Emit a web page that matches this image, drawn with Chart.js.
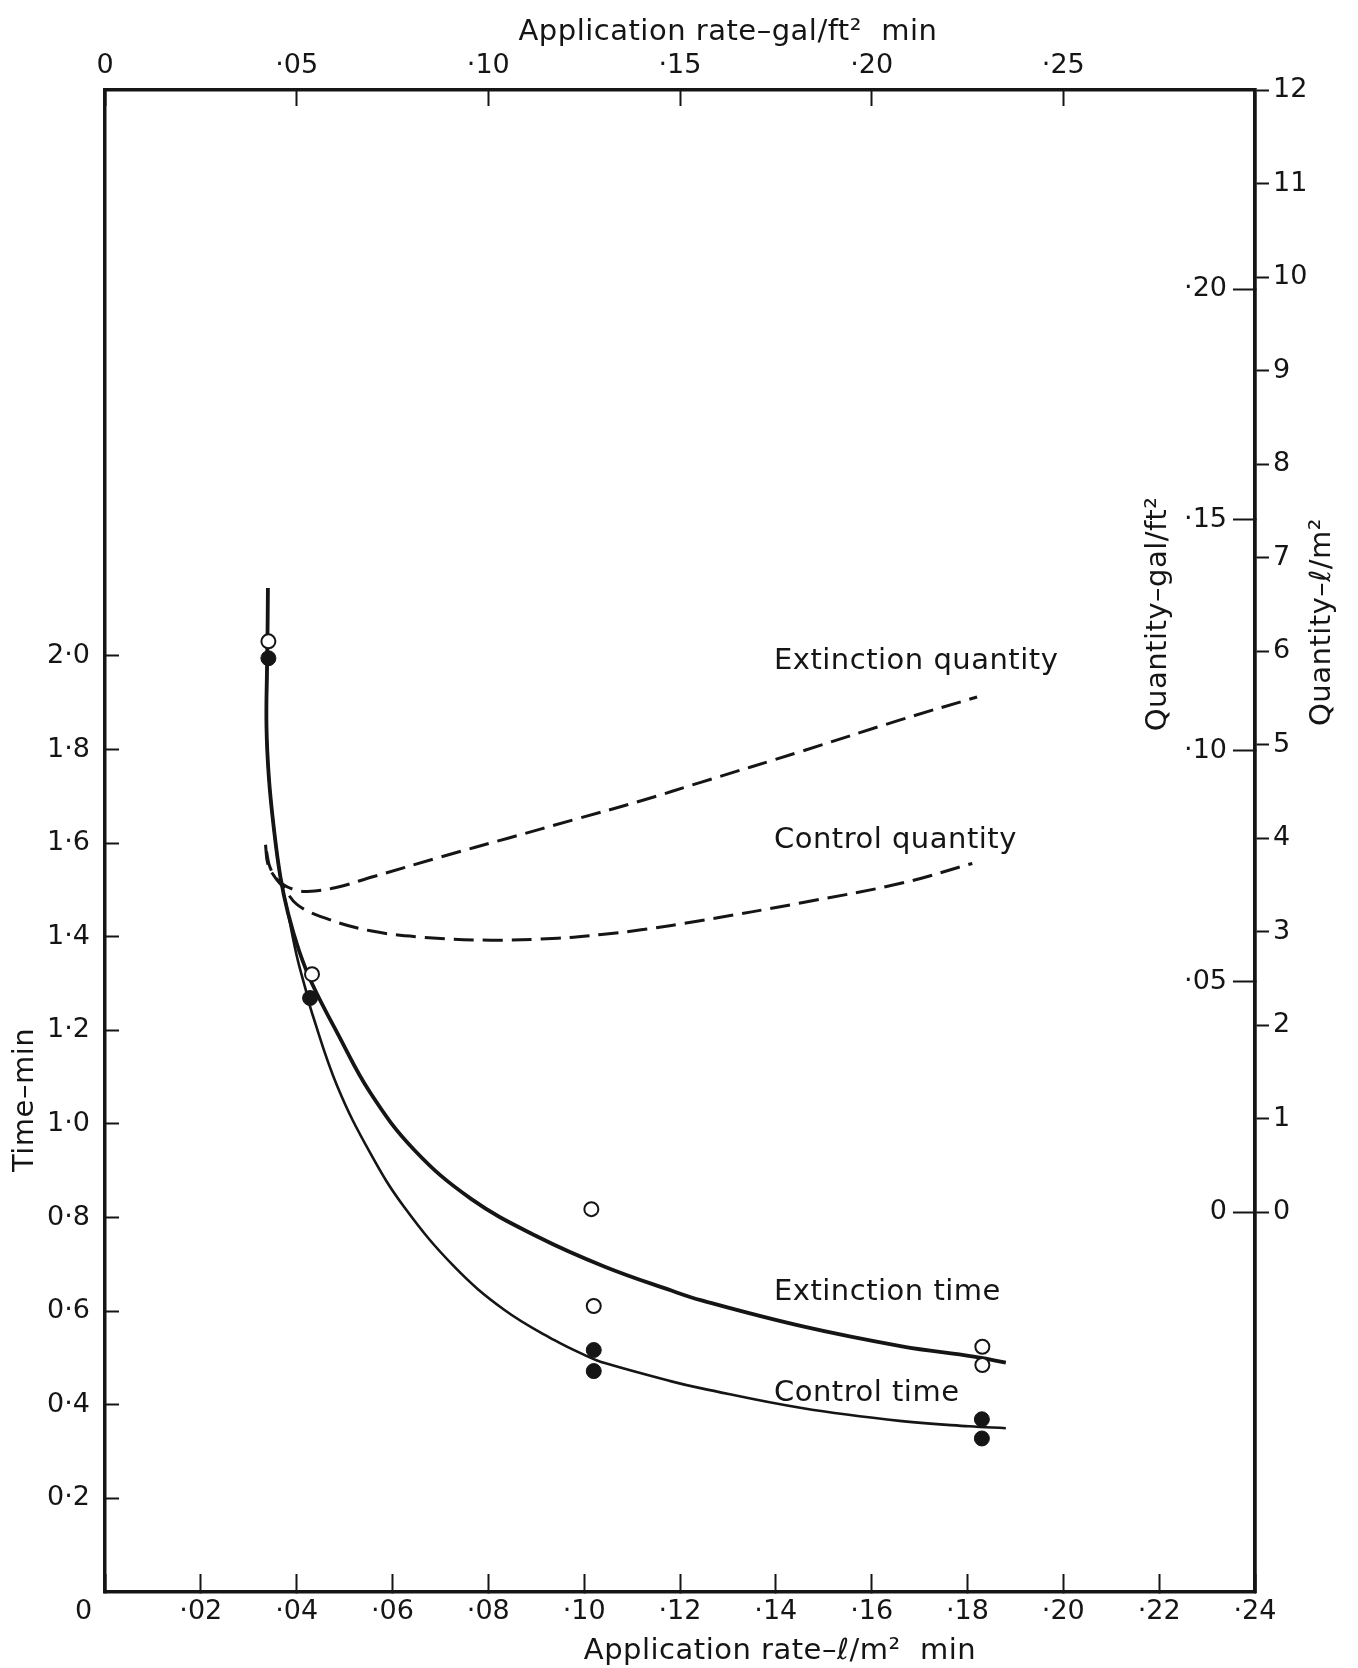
<!DOCTYPE html>
<html>
<head>
<meta charset="utf-8">
<title>Extinction and control: time and quantity against application rate</title>
<script src="https://cdn.jsdelivr.net/npm/chart.js"></script>
<style>
  html, body { margin: 0; padding: 0; background: #fff; }
  #chartCanvas { display: block; }
</style>
</head>
<body>
<canvas id="chartCanvas" width="1358" height="1668"></canvas>
<script>
// application rate in l/m2 min, time in min, quantity in l/m2
var extTimeRate = [0.0340, 0.0339, 0.0338, 0.0337, 0.0342, 0.0352, 0.0366, 0.0382, 0.0405, 0.0432, 0.0485, 0.0554, 0.0645, 0.0764, 0.0903, 0.1043, 0.1182, 0.1245, 0.1454, 0.1663, 0.1813, 0.1880];
var extTimeMin  = [2.145, 2.03, 1.97, 1.85, 1.74, 1.635, 1.528, 1.45, 1.37, 1.30, 1.194, 1.066, 0.945, 0.840, 0.759, 0.695, 0.644, 0.623, 0.568, 0.525, 0.503, 0.490];

var ctlTimeRate = [0.0339, 0.0337, 0.0342, 0.0352, 0.0366, 0.0382, 0.0400, 0.0418, 0.0432, 0.0485, 0.0554, 0.0624, 0.0729, 0.0833, 0.0938, 0.1008, 0.1043, 0.1182, 0.1245, 0.1454, 0.1663, 0.1803, 0.1880];
var ctlTimeMin  = [1.995, 1.85, 1.74, 1.635, 1.528, 1.45, 1.36, 1.29, 1.237, 1.080, 0.937, 0.823, 0.695, 0.603, 0.538, 0.503, 0.489, 0.450, 0.435, 0.393, 0.365, 0.354, 0.350];

var extQtyRate = [0.0337, 0.0345, 0.0365, 0.0395, 0.0422, 0.0480, 0.0561, 0.0701, 0.0841, 0.0980, 0.1119, 0.1245, 0.1454, 0.1663, 0.1820];
var extQtyL    = [3.86, 3.68, 3.53, 3.45, 3.43, 3.47, 3.59, 3.80, 4.00, 4.20, 4.40, 4.60, 4.93, 5.27, 5.51];

var ctlQtyRate = [0.0335, 0.0340, 0.0355, 0.0373, 0.0401, 0.0457, 0.0554, 0.0666, 0.0806, 0.0945, 0.1036, 0.1119, 0.1245, 0.1454, 0.1663, 0.1810];
var ctlQtyL    = [3.93, 3.72, 3.58, 3.47, 3.29, 3.15, 3.01, 2.94, 2.91, 2.93, 2.97, 3.02, 3.12, 3.31, 3.52, 3.73];

// measured points: open = extinction time, filled = control time
var openRate   = [0.0341, 0.0432, 0.1015, 0.1020, 0.1831, 0.1831];
var openMin    = [2.031, 1.320, 0.818, 0.611, 0.524, 0.485];
var filledRate = [0.0341, 0.0428, 0.1020, 0.1020, 0.1830, 0.1830];
var filledMin  = [1.995, 1.269, 0.517, 0.472, 0.369, 0.328];

// axis ticks
var rateTicksLm2 = [0, 0.02, 0.04, 0.06, 0.08, 0.10, 0.12, 0.14, 0.16, 0.18, 0.20, 0.22, 0.24];
var rateTicksGal = [0, 0.05, 0.10, 0.15, 0.20, 0.25];
var timeTicks    = [0.2, 0.4, 0.6, 0.8, 1.0, 1.2, 1.4, 1.6, 1.8, 2.0];
var qtyTicksLm2  = [0, 1, 2, 3, 4, 5, 6, 7, 8, 9, 10, 11, 12];
var qtyTicksGal  = [0, 0.05, 0.10, 0.15, 0.20];

// curve names, placed on the bottom rate axis and the matching value axis
var curveNames     = ['Extinction quantity', 'Control quantity', 'Extinction time', 'Control time'];
var curveNameRate  = [0.1396, 0.1396, 0.1396, 0.1396];
var curveNameValue = [5.89, 3.98, 0.639, 0.425];
var curveNameAxis  = ['yL', 'yL', 'y', 'y'];

var lm2PerGal = 49.35;   // spacing of the two quantity scales as drawn
var ink = '#151515';
var tickFont = { family: '"DejaVu Sans", sans-serif', size: 27 };

function pts(xs, ys) {
    return xs.map(function (x, i) { return { x: x, y: ys[i] }; });
}
function rateLabel(v) {
    if (Math.abs(v) < 1e-9) return '0';
    return '\u00b7' + v.toFixed(2).split('.')[1];
}
function timeLabel(v) {
    return v.toFixed(1).replace('.', '\u00b7');
}
function useTicks(list) {
    return function (s) { s.ticks = list.map(function (v) { return { value: v }; }); };
}
function rotatedText(ctx, text, x, y) {
    ctx.save();
    ctx.translate(x, y);
    ctx.rotate(-Math.PI / 2);
    ctx.fillText(text, 0, 0);
    ctx.restore();
}

var textPlugin = {
    id: 'figureText',
    afterDraw: function (chart) {
        var ctx = chart.ctx, ca = chart.chartArea, sx = chart.scales.x;
        ctx.save();
        ctx.fillStyle = ink;
        ctx.font = '29px "DejaVu Sans", sans-serif';
        ctx.letterSpacing = '0.5px';
        ctx.textBaseline = 'middle';
        ctx.textAlign = 'left';
        for (var i = 0; i < curveNames.length; i++) {
            var sy = chart.scales[curveNameAxis[i]];
            ctx.fillText(curveNames[i], sx.getPixelForValue(curveNameRate[i]), sy.getPixelForValue(curveNameValue[i]));
        }
        // axis titles
        ctx.textAlign = 'center';
        ctx.fillText('Application rate\u2013gal/ft\u00b2  min', ca.left + 623, ca.top - 58);
        ctx.fillText('Application rate\u2013\u2113/m\u00b2  min', ca.left + 675, ca.bottom + 59);
        rotatedText(ctx, 'Time\u2013min', 25, ca.top + 1010);
        rotatedText(ctx, 'Quantity\u2013gal/ft\u00b2', ca.right - 97, ca.top + 524);
        rotatedText(ctx, 'Quantity\u2013\u2113/m\u00b2', ca.right + 67, ca.top + 532);
        ctx.restore();
    }
};

function axisGrid(len) {
    return { drawOnChartArea: false, tickLength: len, tickWidth: 2, color: ink };
}
var frame = { width: 3.5, color: ink };

var ctx = document.getElementById('chartCanvas').getContext('2d');
var chart = new Chart(ctx, {
    type: 'scatter',
    data: {
        datasets: [
            { label: 'Open points', data: pts(openRate, openMin), xAxisID: 'x', yAxisID: 'y', order: 0,
              pointRadius: 7, pointBorderWidth: 2, pointBackgroundColor: '#fff', pointBorderColor: ink },
            { label: 'Filled points', data: pts(filledRate, filledMin), xAxisID: 'x', yAxisID: 'y', order: 0,
              pointRadius: 7.5, pointBorderWidth: 1, pointBackgroundColor: ink, pointBorderColor: ink },
            { label: 'Extinction time', data: pts(extTimeRate, extTimeMin), xAxisID: 'x', yAxisID: 'y', order: 1,
              showLine: true, pointRadius: 0, borderWidth: 3.8, borderColor: ink, tension: 0.4 },
            { label: 'Control time', data: pts(ctlTimeRate, ctlTimeMin), xAxisID: 'x', yAxisID: 'y', order: 1,
              showLine: true, pointRadius: 0, borderWidth: 2.6, borderColor: ink, tension: 0.4 },
            { label: 'Extinction quantity', data: pts(extQtyRate, extQtyL), xAxisID: 'x', yAxisID: 'yL', order: 1,
              showLine: true, pointRadius: 0, borderWidth: 3, borderColor: ink, borderDash: [20, 9], tension: 0.4 },
            { label: 'Control quantity', data: pts(ctlQtyRate, ctlQtyL), xAxisID: 'x', yAxisID: 'yL', order: 1,
              showLine: true, pointRadius: 0, borderWidth: 3, borderColor: ink, borderDash: [20, 9], tension: 0.4 }
        ]
    },
    options: {
        responsive: false,
        animation: false,
        events: [],
        layout: { padding: 0 },
        plugins: { legend: { display: false }, tooltip: { enabled: false } },
        scales: {
            x: {
                type: 'linear', position: 'bottom', min: 0, max: 0.24,
                afterBuildTicks: useTicks(rateTicksLm2),
                afterFit: function (s) { s.height = 76; },
                grid: axisGrid(-18), border: frame,
                ticks: { autoSkip: false, maxRotation: 0, padding: 22, color: ink, font: tickFont,
                         callback: function (v) { return v === 0 ? '0\u00a0\u00a0\u00a0\u00a0\u00a0' : rateLabel(v); } }
            },
            xTop: {
                type: 'linear', position: 'top', min: 0, max: 0.30,
                afterBuildTicks: useTicks(rateTicksGal),
                afterFit: function (s) { s.height = 90; },
                grid: axisGrid(-16), border: frame,
                ticks: { autoSkip: false, maxRotation: 0, padding: 24, color: ink, font: tickFont, callback: rateLabel }
            },
            y: {
                type: 'linear', position: 'left', min: 0, max: 3.209,
                afterBuildTicks: useTicks(timeTicks),
                afterFit: function (s) { s.width = 105; },
                grid: axisGrid(-14), border: frame,
                ticks: { autoSkip: false, padding: 29, color: ink, font: tickFont, callback: timeLabel }
            },
            yGal: {
                type: 'linear', position: 'right', weight: 1,
                min: -4.06 / lm2PerGal, max: 12 / lm2PerGal,
                afterBuildTicks: useTicks(qtyTicksGal),
                afterFit: function (s) { s.width = 0; },
                grid: axisGrid(-22), border: frame,
                ticks: { autoSkip: false, mirror: true, padding: -28, color: ink, font: tickFont, callback: rateLabel }
            },
            yL: {
                type: 'linear', position: 'right', weight: 2, min: -4.06, max: 12,
                afterBuildTicks: useTicks(qtyTicksLm2),
                afterFit: function (s) { s.width = 103; },
                grid: axisGrid(14), border: frame,
                ticks: { autoSkip: false, padding: 4, color: ink, font: tickFont,
                         callback: function (v) { return String(v); } }
            }
        }
    },
    plugins: [textPlugin]
});
</script>
</body>
</html>
